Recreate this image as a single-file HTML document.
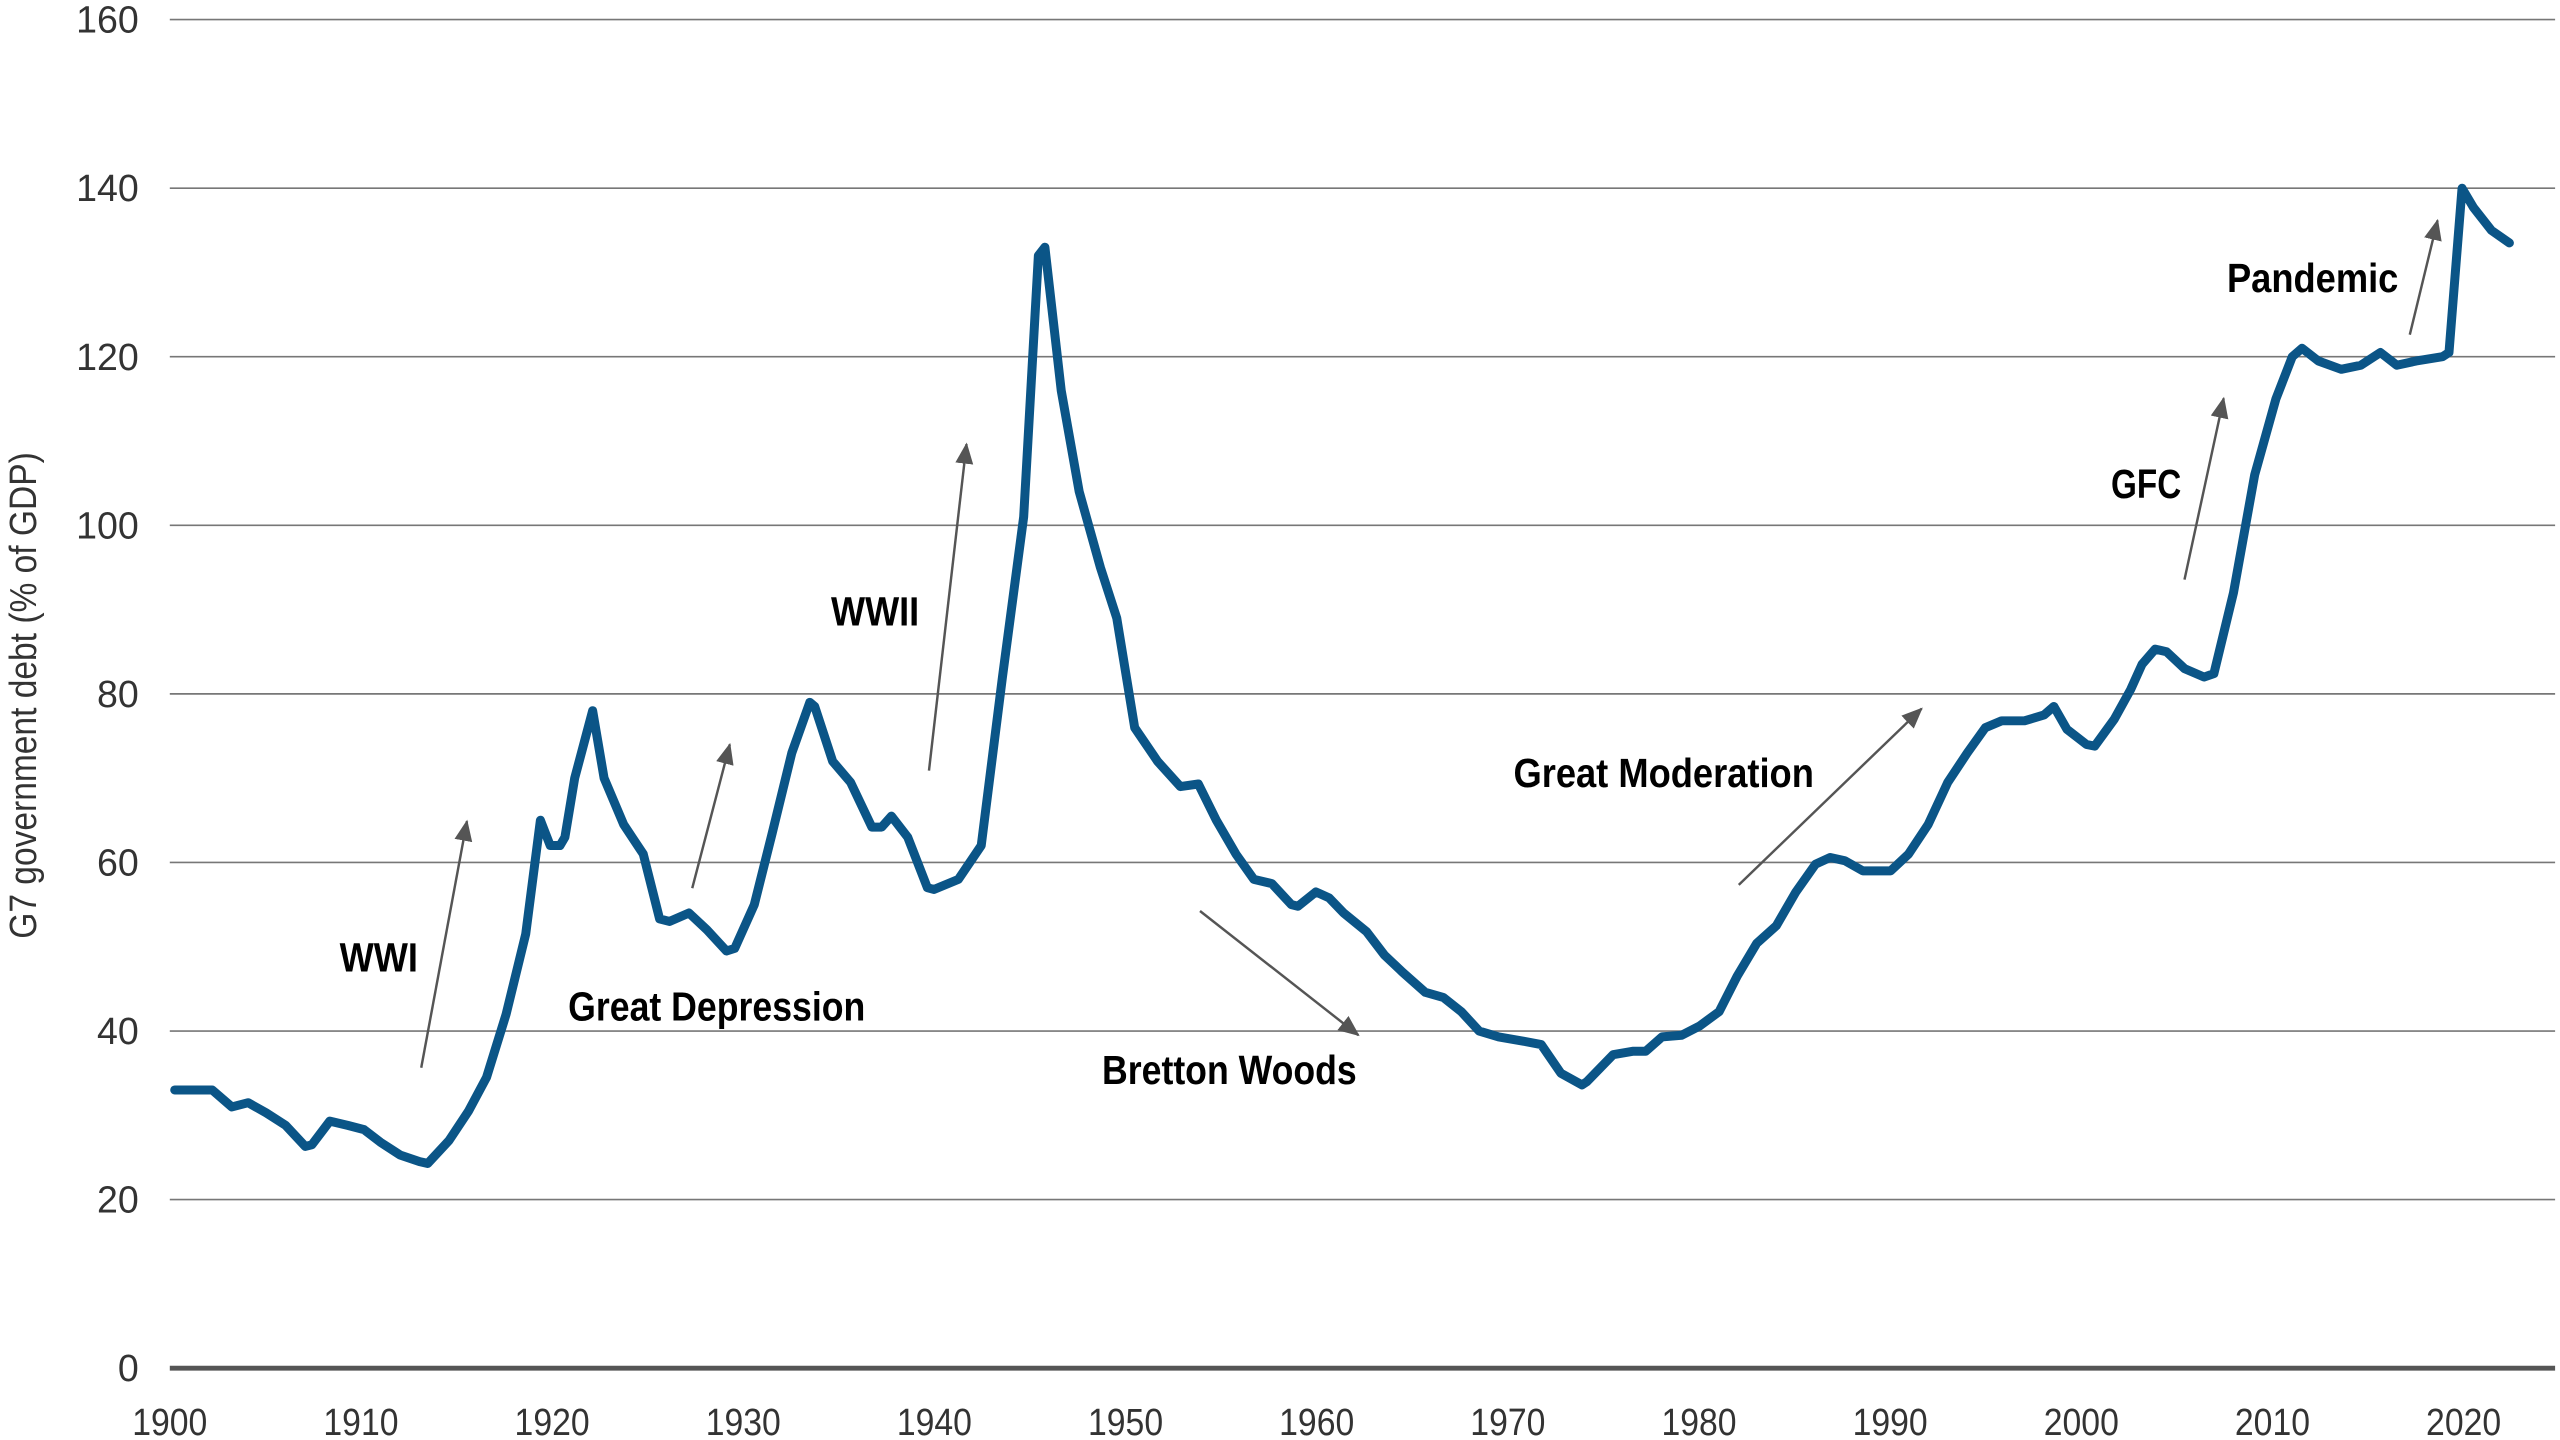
<!DOCTYPE html>
<html><head><meta charset="utf-8"><style>
html,body{margin:0;padding:0;background:#fff;}
svg{display:block;}
.t{font-family:"Liberation Sans Narrow","Liberation Sans",sans-serif;fill:#333;font-size:23px;}
.a{font-family:"Liberation Sans Narrow","Liberation Sans",sans-serif;font-weight:bold;fill:#000;font-size:25px;}
</style></head><body>
<svg width="2560" height="1440" viewBox="0 0 1568 882" xmlns="http://www.w3.org/2000/svg">
<defs><marker id="ah" markerWidth="14" markerHeight="12" refX="12" refY="5.5" orient="auto" markerUnits="userSpaceOnUse"><path d="M0,0 L13,5.5 L0,11 Z" fill="#555"/></marker></defs>
<g id="grid" stroke="#777" stroke-width="1"></g>
<line x1="104" y1="838" x2="1565" y2="838" stroke="#555" stroke-width="3"/>
<g id="ylab"></g><g id="xlab"></g>
<text class="t" transform="translate(22,426) rotate(-90)" text-anchor="middle" textLength="298" lengthAdjust="spacingAndGlyphs">G7 government debt (% of GDP)</text>
<polyline id="ln" fill="none" stroke="#0b5587" stroke-width="5.5" stroke-linejoin="round" stroke-linecap="round"/>
<g stroke="#555" stroke-width="1.5" marker-end="url(#ah)">
<line x1="258" y1="654" x2="286" y2="503"/>
<line x1="424" y1="544" x2="447" y2="456"/>
<line x1="569" y1="472" x2="592" y2="272"/>
<line x1="735" y1="558" x2="832" y2="634"/>
<line x1="1065" y1="542" x2="1177" y2="434"/>
<line x1="1338" y1="355" x2="1362" y2="244"/>
<line x1="1476" y1="205" x2="1493" y2="135"/>
</g>
<text class="a" x="208" y="595" textLength="48" lengthAdjust="spacingAndGlyphs">WWI</text>
<text class="a" x="348" y="625" textLength="182" lengthAdjust="spacingAndGlyphs">Great Depression</text>
<text class="a" x="509" y="383" textLength="54" lengthAdjust="spacingAndGlyphs">WWII</text>
<text class="a" x="675" y="664" textLength="156" lengthAdjust="spacingAndGlyphs">Bretton Woods</text>
<text class="a" x="927" y="482" textLength="184" lengthAdjust="spacingAndGlyphs">Great Moderation</text>
<text class="a" x="1293" y="305" textLength="43" lengthAdjust="spacingAndGlyphs">GFC</text>
<text class="a" x="1364" y="179" textLength="105" lengthAdjust="spacingAndGlyphs">Pandemic</text>
</svg>
<script>
var NS="http://www.w3.org/2000/svg";
function Y(v){return 838-v*5.1625;}
var g=document.getElementById("grid"),yl=document.getElementById("ylab"),xl=document.getElementById("xlab");
for(var v=20;v<=160;v+=20){var l=document.createElementNS(NS,"line");l.setAttribute("x1",104);l.setAttribute("x2",1565);l.setAttribute("y1",Y(v));l.setAttribute("y2",Y(v));g.appendChild(l);}
for(var v=0;v<=160;v+=20){var t=document.createElementNS(NS,"text");t.setAttribute("class","t");t.setAttribute("x",85);t.setAttribute("y",Y(v)+8);t.setAttribute("text-anchor","end");t.textContent=v;yl.appendChild(t);}
for(var yr=1900;yr<=2020;yr+=10){var t=document.createElementNS(NS,"text");t.setAttribute("class","t");t.setAttribute("x",104+11.708*(yr-1900));t.setAttribute("y",879);t.setAttribute("text-anchor","middle");t.setAttribute("textLength","46");t.setAttribute("lengthAdjust","spacingAndGlyphs");t.textContent=yr;xl.appendChild(t);}
var d=[[107,33],[130,33],[142,31],[152,31.5],[163,30.3],[175,28.8],[187,26.3],[191,26.5],[202,29.3],[213,28.8],[223,28.3],[233,26.8],[245,25.3],[257,24.5],[262,24.3],[275,27],[287,30.5],[298,34.5],[310,42],[322,51.5],[331,65],[333,64],[337,62],[343,62],[346,63],[352,70],[363,78],[370,70],[382,64.5],[394,61],[404,53.3],[410,53],[422,54],[433,52],[445,49.5],[450,49.8],[462,55],[473,63.5],[485,73],[496,79],[499,78.5],[510,72],[521,69.5],[534,64.2],[540,64.2],[546,65.5],[556,63],[568,57],[572,56.8],[587,58],[601,62],[614,82],[627,101],[636,132],[640,133],[650,116],[661,104],[674,95],[684,89],[695,76],[709,72],[723,69],[734,69.3],[745,65],[757,61],[768,58],[779,57.5],[791,55],[795,54.8],[806,56.5],[814,55.8],[823,54],[837,51.8],[848,49],[859,47],[873,44.6],[884,44],[895,42.3],[906,40],[918,39.3],[933,38.8],[944,38.4],[956,35],[969,33.6],[972,34],[988,37.2],[1000,37.6],[1008,37.6],[1018,39.3],[1030,39.5],[1041,40.6],[1053,42.3],[1064,46.5],[1076,50.4],[1088,52.5],[1100,56.5],[1112,59.8],[1121,60.6],[1130,60.2],[1141,59],[1158,59],[1169,61],[1181,64.5],[1193,69.5],[1205,73],[1216,76],[1226,76.8],[1240,76.8],[1252,77.5],[1258,78.5],[1266,75.8],[1278,74],[1283,73.8],[1295,77],[1305,80.5],[1312,83.5],[1320,85.3],[1327,85],[1338,83],[1350,82],[1356,82.4],[1368,92],[1381,106],[1394,115],[1404,120],[1410,121],[1420,119.5],[1434,118.5],[1446,119],[1458,120.5],[1468,119],[1480,119.5],[1496,120],[1500,120.5],[1508,140],[1515,137.7],[1526,135],[1537,133.5]];
document.getElementById("ln").setAttribute("points",d.map(function(p){return p[0]+","+Y(p[1]).toFixed(1);}).join(" "));
</script>
</body></html>
